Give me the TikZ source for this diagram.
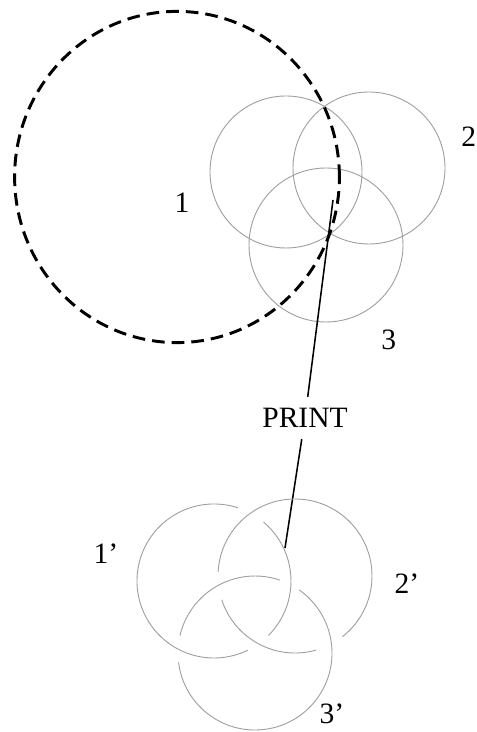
\documentclass[tikz,border=0pt]{standalone}
\usepackage{fontspec}
\setmainfont{Liberation Serif}
\usetikzlibrary{calc, positioning}

\begin{document}
\begin{tikzpicture}[
    ring/.style={gray!75, line width=0.65pt},
    bigring/.style={line width=2.1pt, dash pattern=on 9pt off 5pt},
    lbl/.style={font=\fontsize{21}{25}\selectfont, inner sep=0pt},
    lead/.style={line width=1.1pt}]
  \useasboundingbox (0,0) rectangle (11.925,18.3);

  % upper set of circles
  \coordinate (c1) at (7.15, 14.0);
  \coordinate (c2) at (9.225, 14.1);
  \coordinate (c3) at (8.15, 12.175);
  \draw[ring] (c1) circle[radius=1.9];
  \draw[ring] (c2) circle[radius=1.9];
  \draw[ring] (c3) circle[radius=1.925];
  \draw[bigring] (4.425, 13.875) ellipse[x radius=4.06, y radius=4.14];

  \node[lbl] (n1) at (4.55, 13.225) {1};
  \node[lbl] (n2) at (11.72, 14.875) {2};
  \node[lbl] (n3) at (9.72, 9.8) {3};

  % print lead
  \coordinate (top) at (8.325, 13.3);
  \coordinate (bot) at (7.125, 4.6);
  \node[font=\fontsize{21}{25}\selectfont, inner xsep=2pt, inner ysep=8pt] (print) at (7.625, 7.85) {PRINT};
  \draw[lead] (top) -- (print);
  \draw[lead] (print) -- (bot);

  % lower set, drawn with gaps where a circle passes under
  \coordinate (c1p) at (5.35, 3.775);
  \coordinate (c2p) at (7.375, 3.9);
  \coordinate (c3p) at (6.375, 1.975);
  \foreach \c/\a/\b in {c1p/72/296, c1p/-45/50, c2p/-52/177, c2p/198/286,
                        c3p/71/167, c3p/187/415}
    \draw[ring] ([shift={(\a:1.925)}]\c) arc[start angle=\a, end angle=\b, radius=1.925];

  \node[lbl] (n1p) at (2.65, 4.45) {1'};
  \node[lbl] (n2p) at (10.175, 3.7) {2'};
  \node[lbl] (n3p) at (8.3, 0.45) {3'};
\end{tikzpicture}
\end{document}
